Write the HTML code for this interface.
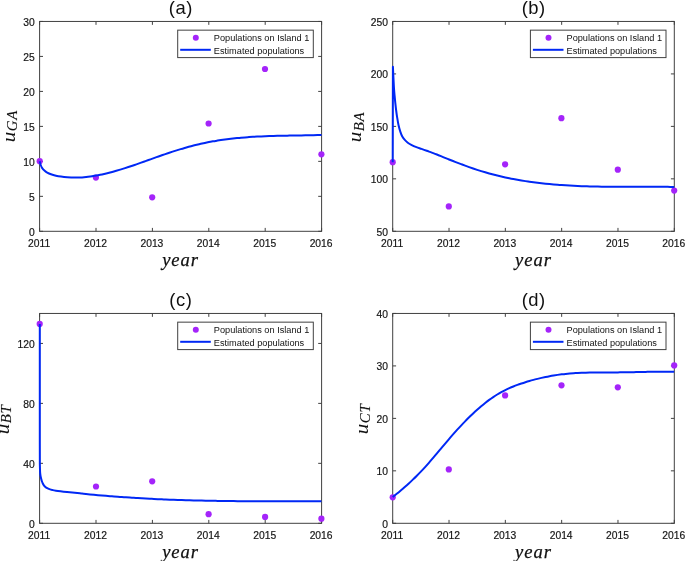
<!DOCTYPE html>
<html lang="en">
<head>
<meta charset="utf-8">
<title>Estimated populations on Island 1</title>
<style>
html,body{margin:0;padding:0;background:#fff;}
body{width:685px;height:561px;overflow:hidden;}
svg{display:block;will-change:transform;transform:translateZ(0);}
.tk{font-family:"Liberation Sans",sans-serif;font-size:10.3px;fill:#151515;stroke:#151515;stroke-width:0.18;}
.lg{font-family:"Liberation Sans",sans-serif;font-size:9.2px;fill:#111;}
.tt{font-family:"Liberation Sans",sans-serif;font-size:18.4px;fill:#111;}
.mi{font-family:"Liberation Serif",serif;font-style:italic;fill:#111;stroke:#111;stroke-width:0.25;}
.ax{stroke:#404040;stroke-width:1;fill:none;}
.cv{stroke:#0028F5;stroke-width:2;fill:none;stroke-linejoin:round;stroke-linecap:butt;}
.dt{fill:#A424FA;}
</style>
</head>
<body>
<svg width="685" height="561" viewBox="0 0 685 561">
<rect x="0" y="0" width="685" height="561" fill="#ffffff"/>

<g>
<rect class="ax" x="39.6" y="21.45" width="282.00" height="209.85"/>
<text class="tk" x="39.10" y="246.80" text-anchor="middle">2011</text>
<text class="tk" x="95.50" y="246.80" text-anchor="middle">2012</text>
<text class="tk" x="151.90" y="246.80" text-anchor="middle">2013</text>
<text class="tk" x="208.30" y="246.80" text-anchor="middle">2014</text>
<text class="tk" x="264.70" y="246.80" text-anchor="middle">2015</text>
<text class="tk" x="321.10" y="246.80" text-anchor="middle">2016</text>
<text class="tk" x="34.80" y="235.70" text-anchor="end">0</text>
<text class="tk" x="34.80" y="200.73" text-anchor="end">5</text>
<text class="tk" x="34.80" y="165.75" text-anchor="end">10</text>
<text class="tk" x="34.80" y="130.78" text-anchor="end">15</text>
<text class="tk" x="34.80" y="95.80" text-anchor="end">20</text>
<text class="tk" x="34.80" y="60.82" text-anchor="end">25</text>
<text class="tk" x="34.80" y="25.85" text-anchor="end">30</text>
<path class="ax" d="M39.60,231.3v-3.4M39.60,21.45v3.4M96.00,231.3v-3.4M96.00,21.45v3.4M152.40,231.3v-3.4M152.40,21.45v3.4M208.80,231.3v-3.4M208.80,21.45v3.4M265.20,231.3v-3.4M265.20,21.45v3.4M321.60,231.3v-3.4M321.60,21.45v3.4M39.6,231.30h3.4M321.6,231.30h-3.4M39.6,196.33h3.4M321.6,196.33h-3.4M39.6,161.35h3.4M321.6,161.35h-3.4M39.6,126.38h3.4M321.6,126.38h-3.4M39.6,91.40h3.4M321.6,91.40h-3.4M39.6,56.42h3.4M321.6,56.42h-3.4M39.6,21.45h3.4M321.6,21.45h-3.4"/>
<text class="tt" x="180.85" y="13.80" text-anchor="middle" letter-spacing="0.5">(a)</text>
<text class="mi" x="180.60" y="265.60" text-anchor="middle" font-size="18.6" letter-spacing="0.95">year</text>
<g transform="translate(14.7,142.28) rotate(-90)"><text class="mi" transform="scale(1.1,1)" font-size="19.3" style="stroke-width:0">u</text><text class="mi" x="11.0" y="2.4" font-size="14.8" letter-spacing="0.8" style="stroke-width:0.1">GA</text></g>
<circle class="dt" cx="39.7" cy="161.2" r="3.1"/>
<circle class="dt" cx="95.9" cy="177.6" r="3.1"/>
<circle class="dt" cx="152.2" cy="197.3" r="3.1"/>
<circle class="dt" cx="208.6" cy="123.5" r="3.1"/>
<circle class="dt" cx="265" cy="69.0" r="3.1"/>
<circle class="dt" cx="321.4" cy="154.3" r="3.1"/>
<path class="cv" d="M39.70,161.35C39.87,161.96 40.28,163.88 40.70,165.00C41.12,166.12 41.58,167.17 42.20,168.10C42.82,169.03 43.57,169.85 44.40,170.60C45.23,171.35 46.10,171.98 47.20,172.60C48.30,173.22 49.53,173.78 51.00,174.30C52.47,174.82 54.33,175.32 56.00,175.70C57.67,176.08 59.13,176.33 61.00,176.60C62.87,176.87 65.37,177.15 67.20,177.30C69.03,177.45 70.53,177.46 72.00,177.50C73.47,177.53 74.68,177.54 76.02,177.53C77.37,177.51 78.71,177.47 80.05,177.41C81.39,177.34 82.73,177.25 84.07,177.14C85.41,177.03 86.76,176.90 88.10,176.74C89.44,176.58 90.78,176.41 92.12,176.21C93.46,176.01 94.80,175.80 96.15,175.56C97.49,175.33 98.83,175.07 100.17,174.80C101.51,174.53 102.85,174.24 104.19,173.94C105.53,173.64 106.88,173.32 108.22,172.98C109.56,172.65 110.90,172.30 112.24,171.94C113.58,171.58 114.92,171.20 116.27,170.82C117.61,170.43 118.95,170.03 120.29,169.63C121.63,169.22 122.97,168.80 124.31,168.38C125.66,167.95 127.00,167.51 128.34,167.07C129.68,166.63 131.02,166.18 132.36,165.72C133.70,165.27 135.05,164.80 136.39,164.34C137.73,163.87 139.07,163.40 140.41,162.93C141.75,162.45 143.09,161.97 144.44,161.49C145.78,161.01 147.12,160.53 148.46,160.05C149.80,159.57 151.14,159.09 152.48,158.61C153.83,158.12 155.17,157.64 156.51,157.16C157.85,156.69 159.19,156.21 160.53,155.74C161.87,155.27 163.22,154.80 164.56,154.33C165.90,153.87 167.24,153.41 168.58,152.96C169.92,152.51 171.26,152.06 172.60,151.63C173.95,151.19 175.29,150.76 176.63,150.34C177.97,149.92 179.31,149.51 180.65,149.11C181.99,148.70 183.34,148.31 184.68,147.93C186.02,147.54 187.36,147.17 188.70,146.80C190.04,146.44 191.38,146.08 192.73,145.74C194.07,145.39 195.41,145.06 196.75,144.73C198.09,144.41 199.43,144.09 200.77,143.79C202.12,143.49 203.46,143.19 204.80,142.91C206.14,142.63 207.48,142.36 208.82,142.10C210.16,141.84 211.51,141.59 212.85,141.35C214.19,141.11 215.53,140.89 216.87,140.67C218.21,140.45 219.55,140.24 220.90,140.04C222.24,139.85 223.58,139.66 224.92,139.48C226.26,139.30 227.60,139.13 228.94,138.96C230.28,138.80 231.63,138.65 232.97,138.50C234.31,138.36 235.65,138.22 236.99,138.09C238.33,137.96 239.67,137.83 241.02,137.72C242.36,137.60 243.70,137.49 245.04,137.39C246.38,137.28 247.72,137.19 249.06,137.09C250.41,137.00 251.75,136.92 253.09,136.83C254.43,136.75 255.77,136.68 257.11,136.61C258.45,136.54 259.80,136.47 261.14,136.41C262.48,136.35 263.82,136.29 265.16,136.24C266.50,136.18 267.84,136.13 269.19,136.09C270.53,136.04 271.87,136.00 273.21,135.96C274.55,135.92 275.89,135.88 277.23,135.85C278.58,135.81 279.92,135.78 281.26,135.75C282.60,135.72 283.94,135.69 285.28,135.67C286.62,135.64 287.97,135.62 289.31,135.59C290.65,135.57 291.99,135.55 293.33,135.53C294.67,135.50 296.01,135.48 297.35,135.46C298.70,135.44 300.04,135.42 301.38,135.40C302.72,135.38 304.06,135.36 305.40,135.34C306.74,135.32 308.09,135.30 309.43,135.28C310.77,135.25 312.11,135.23 313.45,135.20C314.79,135.18 316.13,135.15 317.48,135.12C318.82,135.09 320.83,135.05 321.50,135.03"/>
<rect x="177.70" y="30.15" width="135.60" height="27.45" fill="#fff" stroke="#404040" stroke-width="1"/>
<circle class="dt" cx="195.80" cy="37.80" r="3"/>
<line x1="180.20" x2="210.80" y1="49.80" y2="49.80" stroke="#0028F5" stroke-width="2"/>
<text class="lg" x="213.80" y="40.95">Populations on Island 1</text>
<text class="lg" x="213.80" y="53.65">Estimated populations</text>
</g>
<g>
<rect class="ax" x="392.7" y="21.45" width="281.60" height="209.85"/>
<text class="tk" x="392.20" y="246.80" text-anchor="middle">2011</text>
<text class="tk" x="448.52" y="246.80" text-anchor="middle">2012</text>
<text class="tk" x="504.84" y="246.80" text-anchor="middle">2013</text>
<text class="tk" x="561.16" y="246.80" text-anchor="middle">2014</text>
<text class="tk" x="617.48" y="246.80" text-anchor="middle">2015</text>
<text class="tk" x="673.80" y="246.80" text-anchor="middle">2016</text>
<text class="tk" x="387.90" y="235.70" text-anchor="end">50</text>
<text class="tk" x="387.90" y="183.24" text-anchor="end">100</text>
<text class="tk" x="387.90" y="130.78" text-anchor="end">150</text>
<text class="tk" x="387.90" y="78.31" text-anchor="end">200</text>
<text class="tk" x="387.90" y="25.85" text-anchor="end">250</text>
<path class="ax" d="M392.70,231.3v-3.4M392.70,21.45v3.4M449.02,231.3v-3.4M449.02,21.45v3.4M505.34,231.3v-3.4M505.34,21.45v3.4M561.66,231.3v-3.4M561.66,21.45v3.4M617.98,231.3v-3.4M617.98,21.45v3.4M674.30,231.3v-3.4M674.30,21.45v3.4M392.7,231.30h3.4M674.3,231.30h-3.4M392.7,178.84h3.4M674.3,178.84h-3.4M392.7,126.38h3.4M674.3,126.38h-3.4M392.7,73.91h3.4M674.3,73.91h-3.4M392.7,21.45h3.4M674.3,21.45h-3.4"/>
<text class="tt" x="533.75" y="13.80" text-anchor="middle" letter-spacing="0.5">(b)</text>
<text class="mi" x="533.50" y="265.60" text-anchor="middle" font-size="18.6" letter-spacing="0.95">year</text>
<g transform="translate(361.3,142.28) rotate(-90)"><text class="mi" transform="scale(1.1,1)" font-size="19.3" style="stroke-width:0">u</text><text class="mi" x="11.0" y="2.4" font-size="14.8" letter-spacing="0.8" style="stroke-width:0.1">BA</text></g>
<circle class="dt" cx="392.7" cy="162.2" r="3.1"/>
<circle class="dt" cx="448.8" cy="206.4" r="3.1"/>
<circle class="dt" cx="505.1" cy="164.3" r="3.1"/>
<circle class="dt" cx="561.4" cy="118.2" r="3.1"/>
<circle class="dt" cx="617.8" cy="169.7" r="3.1"/>
<circle class="dt" cx="674.2" cy="190.6" r="3.1"/>
<path class="cv" d="M392.70,162.20L392.90,66.80C392.99,68.67 393.27,74.37 393.45,78.00C393.63,81.63 393.81,85.65 394.00,88.60C394.19,91.55 394.38,93.32 394.60,95.70C394.82,98.08 395.05,100.52 395.30,102.90C395.55,105.28 395.80,107.63 396.10,110.00C396.40,112.37 396.70,114.60 397.10,117.10C397.50,119.60 397.97,122.58 398.50,125.00C399.03,127.42 399.67,129.68 400.30,131.60C400.93,133.52 401.55,135.12 402.30,136.50C403.05,137.88 403.88,138.87 404.80,139.90C405.72,140.93 406.72,141.88 407.80,142.70C408.88,143.52 409.87,144.07 411.30,144.80C412.73,145.53 414.70,146.42 416.40,147.10C418.10,147.78 419.78,148.28 421.50,148.90C423.22,149.52 424.98,150.18 426.70,150.80C428.42,151.42 430.10,151.98 431.80,152.60C433.50,153.22 435.20,153.83 436.90,154.50C438.60,155.17 440.65,156.04 442.00,156.60C443.35,157.16 443.83,157.37 445.00,157.85C446.17,158.32 447.68,158.92 449.02,159.45C450.36,159.98 451.70,160.51 453.04,161.04C454.38,161.56 455.72,162.09 457.06,162.61C458.40,163.12 459.74,163.64 461.08,164.14C462.42,164.65 463.76,165.15 465.11,165.65C466.45,166.14 467.79,166.63 469.13,167.10C470.47,167.58 471.81,168.05 473.15,168.51C474.49,168.96 475.83,169.41 477.17,169.84C478.51,170.28 479.85,170.70 481.19,171.12C482.53,171.53 483.87,171.93 485.21,172.32C486.55,172.71 487.89,173.09 489.23,173.46C490.57,173.83 491.91,174.19 493.25,174.54C494.59,174.89 495.93,175.23 497.27,175.56C498.61,175.89 499.95,176.21 501.29,176.52C502.64,176.83 503.98,177.13 505.32,177.42C506.66,177.71 508.00,177.99 509.34,178.26C510.68,178.54 512.02,178.80 513.36,179.05C514.70,179.31 516.04,179.56 517.38,179.80C518.72,180.03 520.06,180.26 521.40,180.49C522.74,180.71 524.08,180.92 525.42,181.13C526.76,181.34 528.10,181.53 529.44,181.73C530.78,181.92 532.12,182.10 533.46,182.28C534.80,182.45 536.14,182.62 537.48,182.79C538.82,182.95 540.16,183.11 541.51,183.26C542.85,183.41 544.19,183.55 545.53,183.69C546.87,183.83 548.21,183.96 549.55,184.08C550.89,184.21 552.23,184.33 553.57,184.44C554.91,184.56 556.25,184.67 557.59,184.77C558.93,184.87 560.27,184.97 561.61,185.07C562.95,185.16 564.29,185.25 565.63,185.33C566.97,185.42 568.31,185.50 569.65,185.57C570.99,185.65 572.33,185.72 573.67,185.78C575.01,185.85 576.35,185.91 577.69,185.97C579.04,186.03 580.38,186.09 581.72,186.14C583.06,186.19 584.40,186.24 585.74,186.28C587.08,186.32 588.42,186.37 589.76,186.40C591.10,186.44 592.44,186.48 593.78,186.51C595.12,186.54 596.46,186.57 597.80,186.59C599.14,186.62 600.48,186.64 601.82,186.66C603.16,186.69 604.50,186.70 605.84,186.72C607.18,186.74 608.52,186.75 609.86,186.76C611.20,186.78 612.54,186.79 613.88,186.80C615.22,186.81 616.56,186.81 617.91,186.82C619.25,186.82 620.59,186.83 621.93,186.83C623.27,186.84 624.61,186.84 625.95,186.84C627.29,186.84 628.63,186.84 629.97,186.84C631.31,186.84 632.65,186.84 633.99,186.84C635.33,186.84 636.67,186.84 638.01,186.83C639.35,186.83 640.69,186.83 642.03,186.83C643.37,186.83 644.71,186.82 646.05,186.82C647.39,186.82 648.73,186.82 650.07,186.82C651.41,186.82 652.75,186.82 654.09,186.82C655.44,186.82 656.78,186.82 658.12,186.82C659.46,186.83 660.80,186.83 662.14,186.84C663.48,186.84 664.82,186.85 666.16,186.86C667.50,186.86 668.84,186.87 670.18,186.88C671.52,186.90 673.53,186.92 674.20,186.92"/>
<rect x="530.40" y="30.15" width="135.60" height="27.45" fill="#fff" stroke="#404040" stroke-width="1"/>
<circle class="dt" cx="548.50" cy="37.80" r="3"/>
<line x1="532.90" x2="563.50" y1="49.80" y2="49.80" stroke="#0028F5" stroke-width="2"/>
<text class="lg" x="566.50" y="40.95">Populations on Island 1</text>
<text class="lg" x="566.50" y="53.65">Estimated populations</text>
</g>
<g>
<rect class="ax" x="39.6" y="313.45" width="282.00" height="209.85"/>
<text class="tk" x="39.10" y="538.80" text-anchor="middle">2011</text>
<text class="tk" x="95.50" y="538.80" text-anchor="middle">2012</text>
<text class="tk" x="151.90" y="538.80" text-anchor="middle">2013</text>
<text class="tk" x="208.30" y="538.80" text-anchor="middle">2014</text>
<text class="tk" x="264.70" y="538.80" text-anchor="middle">2015</text>
<text class="tk" x="321.10" y="538.80" text-anchor="middle">2016</text>
<text class="tk" x="34.80" y="527.70" text-anchor="end">0</text>
<text class="tk" x="34.80" y="467.74" text-anchor="end">40</text>
<text class="tk" x="34.80" y="407.79" text-anchor="end">80</text>
<text class="tk" x="34.80" y="347.83" text-anchor="end">120</text>
<path class="ax" d="M39.60,523.3v-3.4M39.60,313.45v3.4M96.00,523.3v-3.4M96.00,313.45v3.4M152.40,523.3v-3.4M152.40,313.45v3.4M208.80,523.3v-3.4M208.80,313.45v3.4M265.20,523.3v-3.4M265.20,313.45v3.4M321.60,523.3v-3.4M321.60,313.45v3.4M39.6,523.30h3.4M321.6,523.30h-3.4M39.6,463.34h3.4M321.6,463.34h-3.4M39.6,403.39h3.4M321.6,403.39h-3.4M39.6,343.43h3.4M321.6,343.43h-3.4"/>
<text class="tt" x="180.85" y="305.80" text-anchor="middle" letter-spacing="0.5">(c)</text>
<text class="mi" x="180.60" y="557.60" text-anchor="middle" font-size="18.6" letter-spacing="0.95">year</text>
<g transform="translate(8.6,434.27) rotate(-90)"><text class="mi" transform="scale(1.1,1)" font-size="19.3" style="stroke-width:0">u</text><text class="mi" x="11.0" y="2.4" font-size="14.8" letter-spacing="0.8" style="stroke-width:0.1">BT</text></g>
<circle class="dt" cx="39.7" cy="323.9" r="3.1"/>
<circle class="dt" cx="96" cy="486.5" r="3.1"/>
<circle class="dt" cx="152.2" cy="481.3" r="3.1"/>
<circle class="dt" cx="208.6" cy="514.2" r="3.1"/>
<circle class="dt" cx="265.1" cy="516.9" r="3.1"/>
<circle class="dt" cx="321.4" cy="518.7" r="3.1"/>
<path class="cv" d="M39.80,323.90L39.80,440.00L39.85,464.10C39.89,465.43 39.99,470.18 40.10,472.10C40.21,474.02 40.33,474.53 40.50,475.60C40.67,476.67 40.88,477.60 41.10,478.50C41.32,479.40 41.53,480.20 41.80,481.00C42.07,481.80 42.35,482.58 42.70,483.30C43.05,484.02 43.45,484.70 43.90,485.30C44.35,485.90 44.85,486.43 45.40,486.90C45.95,487.37 46.53,487.73 47.20,488.10C47.87,488.47 48.55,488.78 49.40,489.10C50.25,489.42 51.22,489.73 52.30,490.00C53.38,490.27 53.43,490.37 55.90,490.70C58.37,491.03 63.10,491.57 67.10,492.00C71.10,492.43 77.42,493.03 79.90,493.30C82.38,493.57 80.98,493.48 82.00,493.60C83.02,493.72 84.66,493.88 85.99,494.01C87.32,494.14 88.65,494.27 89.98,494.40C91.31,494.53 92.64,494.66 93.97,494.78C95.30,494.91 96.63,495.03 97.96,495.15C99.29,495.27 100.62,495.39 101.95,495.50C103.28,495.62 104.61,495.73 105.94,495.84C107.27,495.95 108.60,496.06 109.93,496.17C111.26,496.27 112.59,496.38 113.92,496.48C115.25,496.58 116.58,496.68 117.91,496.78C119.24,496.88 120.57,496.97 121.90,497.07C123.23,497.16 124.56,497.25 125.89,497.34C127.22,497.43 128.55,497.52 129.88,497.60C131.21,497.69 132.54,497.77 133.87,497.86C135.20,497.94 136.53,498.02 137.86,498.10C139.19,498.17 140.52,498.25 141.85,498.33C143.18,498.40 144.51,498.47 145.84,498.54C147.17,498.61 148.50,498.68 149.83,498.75C151.16,498.82 152.49,498.88 153.82,498.95C155.15,499.01 156.48,499.07 157.81,499.13C159.14,499.19 160.47,499.25 161.80,499.31C163.13,499.37 164.46,499.42 165.79,499.48C167.12,499.53 168.45,499.58 169.78,499.64C171.11,499.69 172.44,499.74 173.77,499.78C175.10,499.83 176.43,499.88 177.76,499.92C179.09,499.97 180.42,500.01 181.75,500.06C183.08,500.10 184.41,500.14 185.74,500.18C187.07,500.22 188.40,500.26 189.73,500.29C191.06,500.33 192.39,500.37 193.72,500.40C195.05,500.44 196.38,500.47 197.71,500.50C199.04,500.53 200.37,500.56 201.70,500.59C203.03,500.62 204.36,500.65 205.69,500.68C207.02,500.70 208.35,500.73 209.68,500.76C211.01,500.78 212.34,500.80 213.67,500.83C215.00,500.85 216.33,500.87 217.66,500.89C218.99,500.91 220.32,500.93 221.65,500.95C222.98,500.97 224.31,500.99 225.64,501.01C226.97,501.02 228.30,501.04 229.63,501.05C230.96,501.07 232.29,501.08 233.62,501.10C234.95,501.11 236.28,501.12 237.61,501.14C238.94,501.15 240.27,501.16 241.60,501.17C242.93,501.18 244.26,501.19 245.59,501.20C246.92,501.21 248.25,501.22 249.58,501.22C250.91,501.23 252.24,501.24 253.57,501.24C254.90,501.25 256.23,501.26 257.56,501.26C258.89,501.27 260.22,501.27 261.55,501.27C262.88,501.28 264.21,501.28 265.54,501.28C266.87,501.29 268.20,501.29 269.53,501.29C270.86,501.29 272.19,501.30 273.52,501.30C274.85,501.30 276.18,501.30 277.51,501.30C278.84,501.30 280.17,501.30 281.50,501.30C282.83,501.30 284.16,501.30 285.49,501.30C286.82,501.30 288.15,501.30 289.48,501.30C290.81,501.29 292.14,501.29 293.47,501.29C294.80,501.29 296.13,501.29 297.46,501.29C298.79,501.28 300.12,501.28 301.45,501.28C302.78,501.28 304.11,501.27 305.44,501.27C306.77,501.27 308.10,501.27 309.43,501.26C310.76,501.26 312.09,501.26 313.42,501.26C314.75,501.25 316.08,501.25 317.41,501.25C318.74,501.25 320.73,501.24 321.40,501.24"/>
<rect x="177.70" y="322.15" width="135.60" height="27.45" fill="#fff" stroke="#404040" stroke-width="1"/>
<circle class="dt" cx="195.80" cy="329.80" r="3"/>
<line x1="180.20" x2="210.80" y1="341.80" y2="341.80" stroke="#0028F5" stroke-width="2"/>
<text class="lg" x="213.80" y="332.95">Populations on Island 1</text>
<text class="lg" x="213.80" y="345.65">Estimated populations</text>
</g>
<g>
<rect class="ax" x="392.7" y="313.45" width="281.60" height="209.85"/>
<text class="tk" x="392.20" y="538.80" text-anchor="middle">2011</text>
<text class="tk" x="448.52" y="538.80" text-anchor="middle">2012</text>
<text class="tk" x="504.84" y="538.80" text-anchor="middle">2013</text>
<text class="tk" x="561.16" y="538.80" text-anchor="middle">2014</text>
<text class="tk" x="617.48" y="538.80" text-anchor="middle">2015</text>
<text class="tk" x="673.80" y="538.80" text-anchor="middle">2016</text>
<text class="tk" x="387.90" y="527.70" text-anchor="end">0</text>
<text class="tk" x="387.90" y="475.24" text-anchor="end">10</text>
<text class="tk" x="387.90" y="422.77" text-anchor="end">20</text>
<text class="tk" x="387.90" y="370.31" text-anchor="end">30</text>
<text class="tk" x="387.90" y="317.85" text-anchor="end">40</text>
<path class="ax" d="M392.70,523.3v-3.4M392.70,313.45v3.4M449.02,523.3v-3.4M449.02,313.45v3.4M505.34,523.3v-3.4M505.34,313.45v3.4M561.66,523.3v-3.4M561.66,313.45v3.4M617.98,523.3v-3.4M617.98,313.45v3.4M674.30,523.3v-3.4M674.30,313.45v3.4M392.7,523.30h3.4M674.3,523.30h-3.4M392.7,470.84h3.4M674.3,470.84h-3.4M392.7,418.38h3.4M674.3,418.38h-3.4M392.7,365.91h3.4M674.3,365.91h-3.4M392.7,313.45h3.4M674.3,313.45h-3.4"/>
<text class="tt" x="533.75" y="305.80" text-anchor="middle" letter-spacing="0.5">(d)</text>
<text class="mi" x="533.50" y="557.60" text-anchor="middle" font-size="18.6" letter-spacing="0.95">year</text>
<g transform="translate(367.8,434.27) rotate(-90)"><text class="mi" transform="scale(1.1,1)" font-size="19.3" style="stroke-width:0">u</text><text class="mi" x="11.0" y="2.4" font-size="14.8" letter-spacing="0.8" style="stroke-width:0.1">CT</text></g>
<circle class="dt" cx="392.7" cy="497.3" r="3.1"/>
<circle class="dt" cx="448.8" cy="469.4" r="3.1"/>
<circle class="dt" cx="505.1" cy="395.4" r="3.1"/>
<circle class="dt" cx="561.5" cy="385.3" r="3.1"/>
<circle class="dt" cx="617.8" cy="387.3" r="3.1"/>
<circle class="dt" cx="674.2" cy="365.4" r="3.1"/>
<path class="cv" d="M392.70,497.02C393.37,496.48 395.38,494.88 396.72,493.79C398.06,492.70 399.40,491.59 400.74,490.45C402.08,489.32 403.42,488.17 404.76,486.99C406.10,485.82 407.45,484.62 408.79,483.39C410.13,482.17 411.47,480.92 412.81,479.64C414.15,478.36 415.49,477.06 416.83,475.72C418.17,474.38 419.51,473.01 420.85,471.61C422.19,470.21 423.53,468.77 424.87,467.30C426.21,465.83 427.55,464.32 428.89,462.79C430.23,461.27 431.57,459.70 432.91,458.14C434.25,456.57 435.60,454.97 436.94,453.38C438.28,451.79 439.62,450.18 440.96,448.58C442.30,446.98 443.64,445.37 444.98,443.79C446.32,442.20 447.66,440.61 449.00,439.06C450.34,437.50 451.68,435.95 453.02,434.43C454.36,432.91 455.70,431.41 457.04,429.93C458.38,428.45 459.72,427.00 461.06,425.57C462.40,424.14 463.75,422.73 465.09,421.35C466.43,419.97 467.77,418.62 469.11,417.30C470.45,415.98 471.79,414.68 473.13,413.42C474.47,412.16 475.81,410.93 477.15,409.73C478.49,408.53 479.83,407.36 481.17,406.23C482.51,405.10 483.85,404.01 485.19,402.95C486.53,401.89 487.87,400.87 489.21,399.89C490.55,398.91 491.90,397.96 493.24,397.06C494.58,396.16 495.92,395.30 497.26,394.48C498.60,393.66 499.94,392.89 501.28,392.15C502.62,391.42 503.96,390.72 505.30,390.06C506.64,389.39 507.98,388.77 509.32,388.17C510.66,387.57 512.00,387.00 513.34,386.46C514.68,385.92 516.02,385.41 517.36,384.92C518.70,384.42 520.05,383.96 521.39,383.51C522.73,383.06 524.07,382.63 525.41,382.22C526.75,381.80 528.09,381.40 529.43,381.02C530.77,380.63 532.11,380.26 533.45,379.90C534.79,379.53 536.13,379.19 537.47,378.85C538.81,378.52 540.15,378.20 541.49,377.89C542.83,377.59 544.17,377.30 545.51,377.02C546.85,376.74 548.20,376.47 549.54,376.22C550.88,375.97 552.22,375.73 553.56,375.51C554.90,375.29 556.24,375.08 557.58,374.88C558.92,374.69 560.26,374.51 561.60,374.34C562.94,374.18 564.28,374.02 565.62,373.89C566.96,373.75 568.30,373.62 569.64,373.51C570.98,373.40 572.32,373.30 573.66,373.20C575.00,373.11 576.35,373.03 577.69,372.96C579.03,372.89 580.37,372.83 581.71,372.78C583.05,372.72 584.39,372.68 585.73,372.64C587.07,372.60 588.41,372.57 589.75,372.55C591.09,372.52 592.43,372.50 593.77,372.48C595.11,372.47 596.45,372.45 597.79,372.45C599.13,372.44 600.47,372.43 601.81,372.43C603.15,372.42 604.50,372.42 605.84,372.42C607.18,372.41 608.52,372.41 609.86,372.41C611.20,372.41 612.54,372.41 613.88,372.40C615.22,372.39 616.56,372.39 617.90,372.38C619.24,372.36 620.58,372.35 621.92,372.33C623.26,372.32 624.60,372.30 625.94,372.27C627.28,372.25 628.62,372.23 629.96,372.20C631.30,372.18 632.65,372.15 633.99,372.13C635.33,372.10 636.67,372.07 638.01,372.04C639.35,372.02 640.69,371.99 642.03,371.96C643.37,371.93 644.71,371.91 646.05,371.88C647.39,371.86 648.73,371.84 650.07,371.81C651.41,371.79 652.75,371.77 654.09,371.76C655.43,371.74 656.77,371.73 658.11,371.72C659.45,371.71 660.80,371.70 662.14,371.70C663.48,371.70 664.82,371.70 666.16,371.70C667.50,371.71 668.84,371.72 670.18,371.74C671.52,371.75 673.53,371.79 674.20,371.80"/>
<rect x="530.40" y="322.15" width="135.60" height="27.45" fill="#fff" stroke="#404040" stroke-width="1"/>
<circle class="dt" cx="548.50" cy="329.80" r="3"/>
<line x1="532.90" x2="563.50" y1="341.80" y2="341.80" stroke="#0028F5" stroke-width="2"/>
<text class="lg" x="566.50" y="332.95">Populations on Island 1</text>
<text class="lg" x="566.50" y="345.65">Estimated populations</text>
</g>
</svg>
</body>
</html>
